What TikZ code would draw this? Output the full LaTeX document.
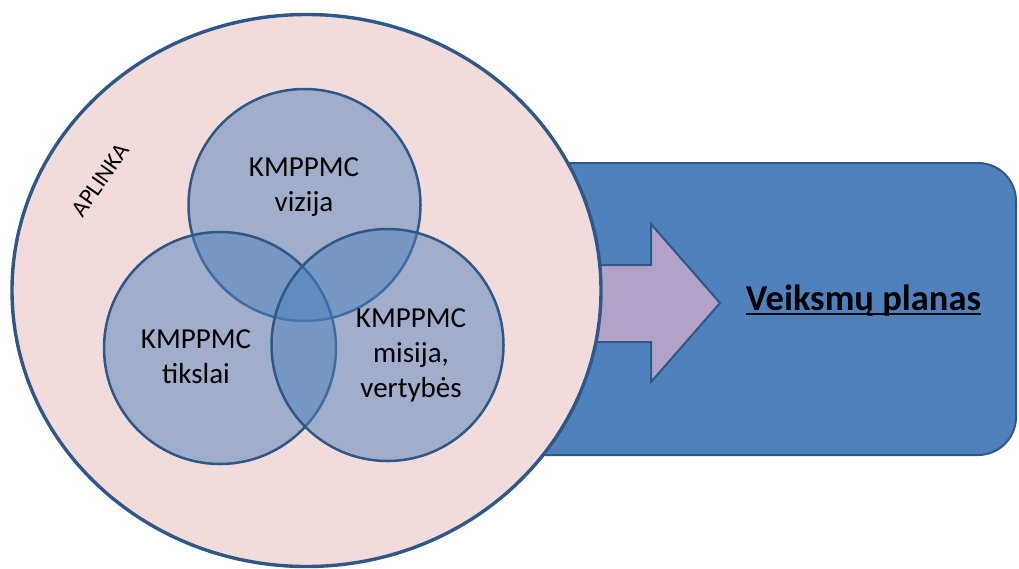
\documentclass[tikz,border=0pt]{standalone}
\usepackage{fontspec}
\setmainfont{Carlito}
\usetikzlibrary{shapes.geometric}
\definecolor{cBlue}{HTML}{4F81BD}
\definecolor{cOut}{HTML}{2F5888}
\definecolor{cPink}{HTML}{F2DCDB}
\definecolor{cLav}{HTML}{B2A2C7}
\begin{document}
\begin{tikzpicture}[x=1pt,y=-1pt,
  venn/.style={circle, draw=cOut, line width=2.5pt, fill=cBlue, fill opacity=0.5, minimum size=232pt, inner sep=0pt},
  lbl/.style={align=center, font=\fontsize{29}{35}\selectfont, text=black, inner sep=0pt},
]
\useasboundingbox (0,0) rectangle (1019,568);
% action plan box
\node[draw=cOut, line width=2pt, fill=cBlue, rounded corners=38pt, minimum width=566pt, minimum height=292pt, inner sep=0pt] (plan) at (733,309) {};
% block arrow
\draw[draw=cOut, line width=2pt, fill=cLav, line join=miter]
  (560,265) -- (651,265) -- (651,224) -- (720,303) -- (651,382) -- (651,342) -- (560,342) -- cycle;
% environment
\node[ellipse, draw=cOut, line width=3.4pt, fill=cPink, minimum width=589pt, minimum height=552pt, inner sep=0pt] (env) at (306.5,290.5) {};
\node[rotate=55, font=\fontsize{23.5}{26}\selectfont, inner sep=0pt] (aplinka) at (100,180) {APLINKA};
% venn circles
\node[venn] (viz) at (304.5,205) {};
\node[venn] (tik) at (220,348) {};
\node[venn] (mis) at (387.5,345) {};
\node[lbl] (tviz) at (304,187) {KMPPMC\\vizija};
\node[lbl] (ttik) at (196,357) {KMPPMC\\tikslai};
\node[lbl] (tmis) at (411,355) {KMPPMC\\misija,\\vertybės};
% label
\node[font=\fontsize{36.5}{40}\selectfont\bfseries, inner sep=0pt, anchor=base] (vp) at (863.5,310) {Veiksmų planas};
\draw[line width=1.8pt] ([yshift=-4pt]vp.base west) -- ([yshift=-4pt]vp.base east);
\end{tikzpicture}
\end{document}
